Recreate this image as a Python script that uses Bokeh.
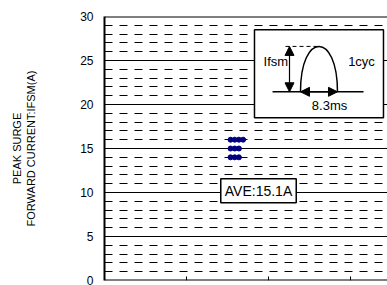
import numpy as np
from bokeh.plotting import figure
from bokeh.models import (Range1d, FixedTicker, Span, Arrow, NormalHead, Label)
from bokeh.embed import file_html
from bokeh.resources import INLINE

# ---- data ----
ifsm_values = [16, 16, 16, 16, 15, 15, 15, 14, 14, 14]
y_major_ticks = [0, 5, 10, 15, 20, 25, 30]
y_minor_ticks = [v for v in range(1, 30) if v % 5 != 0]
x_ticks = [1, 2, 3]
y_title = "PEAK SURGE\nFORWARD CURRENT:IFSM(A)"

FONT = "Liberation Sans"

p = figure(width=387, height=285, output_backend="svg", toolbar_location=None,
           x_range=Range1d(0, 3.451), y_range=Range1d(0, 30),
           min_border_left=104, min_border_right=0, min_border_top=16,
           min_border_bottom=5)
p.outline_line_color = None
p.background_fill_color = "white"
p.border_fill_color = "white"

# x axis drawn by hand (labels are outside the visible area in the reference)
p.xaxis.visible = False
p.add_layout(Span(location=0, dimension="width", line_color="black", line_width=2))
p.segment(x0=x_ticks, y0=[0] * len(x_ticks), x1=x_ticks, y1=[0.46] * len(x_ticks),
          line_color="black", line_width=1)

ya = p.yaxis[0]
ya.ticker = FixedTicker(ticks=y_major_ticks, minor_ticks=y_minor_ticks)
ya.major_tick_in = 0
ya.major_tick_out = 0
ya.minor_tick_in = 0
ya.minor_tick_out = 0
ya.axis_line_width = 2
ya.axis_line_color = "black"
ya.major_label_text_font = FONT
ya.major_label_text_font_size = "12px"
ya.major_label_text_color = "black"
ya.major_label_standoff = 11
ya.axis_label = y_title
ya.axis_label_text_font = FONT
ya.axis_label_text_font_size = "11px"
ya.axis_label_text_font_style = "normal"
ya.axis_label_text_color = "black"
ya.axis_label_standoff = 40

# grids
p.xgrid.grid_line_color = None
g = p.ygrid[0]
g.grid_line_color = "black"
g.grid_line_width = 1
g.minor_grid_line_color = "black"
g.minor_grid_line_dash = "8 7"
g.minor_grid_line_width = 1

# top border
p.add_layout(Span(location=30, dimension="width", line_color="black", line_width=2))

# data dots (stacked horizontally per value)
xs, ys = [], []
counts = {}
for v in ifsm_values:
    k = counts.get(v, 0)
    counts[v] = k + 1
    xs.append(1.537 + 0.051 * k)
    ys.append(v)
p.scatter(xs, ys, size=5, color="#000080", line_color="#000080")

# average box
ave = float(np.mean(ifsm_values))
p.add_layout(Label(x=1.878, y=10.2, text=f"AVE:{ave:.1f}A",
                   text_align="center", text_baseline="middle",
                   text_font=FONT, text_font_size="14px", text_color="black",
                   border_line_color="black", border_line_width=1.5,
                   background_fill_color="white", padding=4))

# inset schematic
p.quad(left=[1.829], right=[3.402], bottom=[18.5], top=[28.5],
       fill_color="white", line_color="black", line_width=1.5)
base_y = 21.44
peak_y = 26.6
a0, a1 = 2.39, 2.841
p.line([2.049, 3.159], [base_y, base_y], line_color="black", line_width=1.5)
h = (peak_y - base_y) * 4 / 3
p.bezier(x0=[a0], y0=[base_y], x1=[a1], y1=[base_y],
         cx0=[a0], cy0=[base_y + h], cx1=[a1], cy1=[base_y + h],
         line_color="black", line_width=1.5)
p.line([2.207, (a0 + a1) / 2], [peak_y, peak_y], line_color="black",
       line_width=1, line_dash="4 3")
p.add_layout(Arrow(x_start=2.256, y_start=base_y, x_end=2.256, y_end=peak_y,
                   line_color="black", line_width=1.2,
                   start=NormalHead(size=9, fill_color="black", line_color="black"),
                   end=NormalHead(size=9, fill_color="black", line_color="black")))
p.add_layout(Arrow(x_start=a0, y_start=base_y, x_end=a1, y_end=base_y,
                   line_color="black", line_width=1.2,
                   start=NormalHead(size=9, fill_color="black", line_color="black"),
                   end=NormalHead(size=9, fill_color="black", line_color="black")))
for tx, ty, t in [(2.09, 24.88, "Ifsm"), (3.134, 24.85, "1cyc"), (2.744, 19.87, "8.3ms")]:
    p.add_layout(Label(x=tx, y=ty, text=t, text_align="center", text_baseline="middle",
                       text_font=FONT, text_font_size="13px", text_color="black"))

open("out.html", "w").write(file_html(p, INLINE))
